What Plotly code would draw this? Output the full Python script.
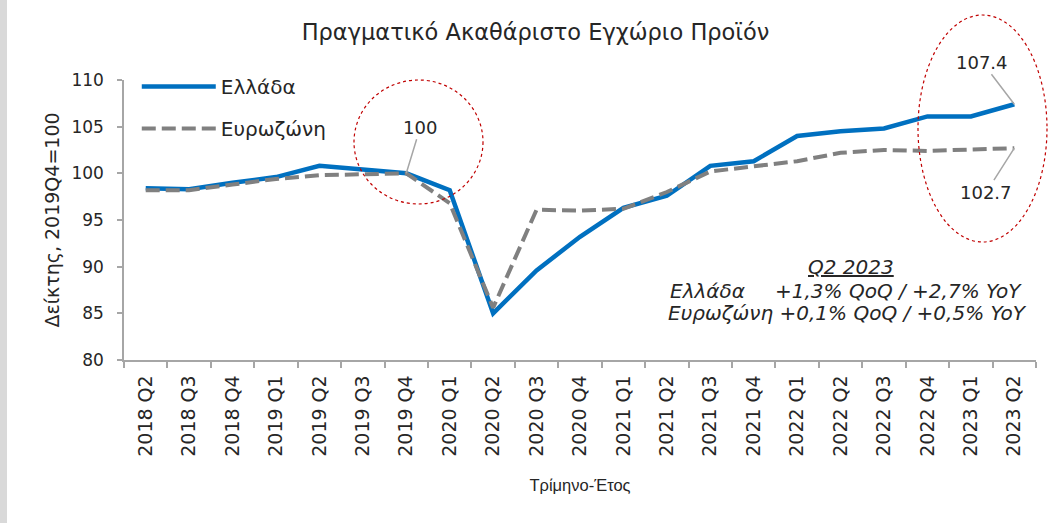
import plotly.graph_objects as go

quarters = ["2018 Q2", "2018 Q3", "2018 Q4", "2019 Q1", "2019 Q2", "2019 Q3", "2019 Q4",
            "2020 Q1", "2020 Q2", "2020 Q3", "2020 Q4", "2021 Q1", "2021 Q2", "2021 Q3",
            "2021 Q4", "2022 Q1", "2022 Q2", "2022 Q3", "2022 Q4", "2023 Q1", "2023 Q2"]
greece = [98.4, 98.3, 99.0, 99.6, 100.8, 100.4, 100.0,
          98.2, 85.0, 89.6, 93.2, 96.3, 97.6, 100.8,
          101.3, 104.0, 104.5, 104.8, 106.1, 106.1, 107.4]
eurozone = [98.2, 98.2, 98.8, 99.4, 99.8, 99.9, 100.0,
            96.8, 85.6, 96.1, 96.0, 96.2, 98.0, 100.2,
            100.7, 101.3, 102.2, 102.5, 102.4, 102.5, 102.7]
series_names = ["Ελλάδα", "Ευρωζώνη"]

FONT = "DejaVu Sans"
TXT = "#262626"
AX = "#a6a6a6"

fig = go.Figure()
fig.add_trace(go.Scatter(x=quarters, y=greece, name=series_names[0], mode="lines",
                         legendgroup="g1",
                         line=dict(color="#0070C0", width=4.5)))
fig.add_trace(go.Scatter(x=quarters, y=eurozone, name=series_names[1], mode="lines",
                         legendgroup="g2",
                         line=dict(color="#808080", width=4, dash="14px,6px")))

W, H = 1050, 523
L, R, T, B = 124, 14, 80, 163

fig.update_layout(
    width=W, height=H,
    margin=dict(l=L, r=R, t=T, b=B, autoexpand=False),
    paper_bgcolor="white", plot_bgcolor="white",
    font=dict(family=FONT, color=TXT, size=16),
    title=dict(text="Πραγματικό Ακαθάριστο Εγχώριο Προϊόν", x=0.51, xanchor="center",
               y=1 - 32 / H, yanchor="middle", font=dict(size=22.5, color=TXT)),
    showlegend=True,
    legend=dict(x=0.014, y=1.046, xanchor="left", yanchor="top", bgcolor="rgba(0,0,0,0)",
                font=dict(size=20, color=TXT), tracegroupgap=13, itemwidth=74),
    xaxis=dict(type="category", range=[-0.5, len(quarters) - 0.5],
               showline=True, linecolor=AX, linewidth=1.5,
               ticks="outside", ticklen=6, tickcolor=AX, tickwidth=1.5, automargin=False,
               tickson="boundaries", tickangle=-90, showgrid=False, zeroline=False,
               tickfont=dict(size=19, color=TXT), ticklabelstandoff=6,
               title=dict(text="Τρίμηνο-Έτος", font=dict(size=16.5, color=TXT,
                          family="Liberation Sans"), standoff=24)),
    yaxis=dict(range=[80, 110], dtick=5, showline=True, linecolor=AX, linewidth=1.5,
               ticks="outside", ticklen=5, tickcolor=AX, tickwidth=1.5, automargin=False,
               showgrid=False, zeroline=False, tickfont=dict(size=17, color=TXT),
               ticklabelstandoff=10,
               title=dict(text="Δείκτης, 2019Q4=100", font=dict(size=19, color=TXT),
                          standoff=7)),
)

# callout annotations with leader lines
ann_font = dict(size=18, color=TXT, family=FONT)
fig.add_annotation(x=quarters[6], y=greece[6], text="100", showarrow=True, arrowhead=0,
                   arrowcolor=AX, arrowwidth=1.5, ax=14, ay=-46, font=ann_font)
fig.add_annotation(x=quarters[-1], y=greece[-1], text=f"{greece[-1]:.1f}", showarrow=True,
                   arrowhead=0, arrowcolor=AX, arrowwidth=1.5, ax=-32, ay=-42, font=ann_font)
fig.add_annotation(x=quarters[-1], y=eurozone[-1], text=f"{eurozone[-1]:.1f}", showarrow=True,
                   arrowhead=0, arrowcolor=AX, arrowwidth=1.5, ax=-28, ay=44, font=ann_font)

def px_x(px):
    return (px - L) / (W - L - R)

def px_y(py):
    return (H - B - py) / (H - T - B)

# red dashed highlight circles
fig.add_shape(type="circle", xref="paper", yref="paper",
              x0=px_x(354), x1=px_x(483), y0=px_y(204), y1=px_y(80),
              line=dict(color="#C00000", width=1.2, dash="dot"))
fig.add_shape(type="circle", xref="paper", yref="paper",
              x0=px_x(918), x1=px_x(1047), y0=px_y(242), y1=px_y(15),
              line=dict(color="#C00000", width=1.2, dash="dot"))

# summary text block
blk = dict(size=20, color=TXT, family=FONT)
fig.add_annotation(xref="paper", yref="paper", x=px_x(851), y=px_y(267), xanchor="center",
                   yanchor="middle", text="<i><u>Q2 2023</u></i>", showarrow=False, font=blk)
fig.add_annotation(xref="paper", yref="paper", x=px_x(668), y=px_y(291), xanchor="left",
                   yanchor="middle", text="<i>Ελλάδα</i>", showarrow=False, font=blk)
fig.add_annotation(xref="paper", yref="paper", x=px_x(1024), y=px_y(291), xanchor="right",
                   yanchor="middle", text="<i>+1,3% QoQ / +2,7% YoY</i>", showarrow=False, font=blk)
fig.add_annotation(xref="paper", yref="paper", x=px_x(666), y=px_y(313), xanchor="left",
                   yanchor="middle", text="<i>Ευρωζώνη +0,1% QoQ / +0,5% YoY</i>",
                   showarrow=False, font=blk)

# grey strip on the left edge
fig.add_shape(type="rect", xref="paper", yref="paper",
              x0=px_x(0), x1=px_x(7), y0=px_y(H), y1=px_y(0),
              fillcolor="#d9d9d9", line=dict(width=0), layer="below")

fig.write_html("out.html", config={"displayModeBar": False},
               post_script="document.body.style.margin='0';")
